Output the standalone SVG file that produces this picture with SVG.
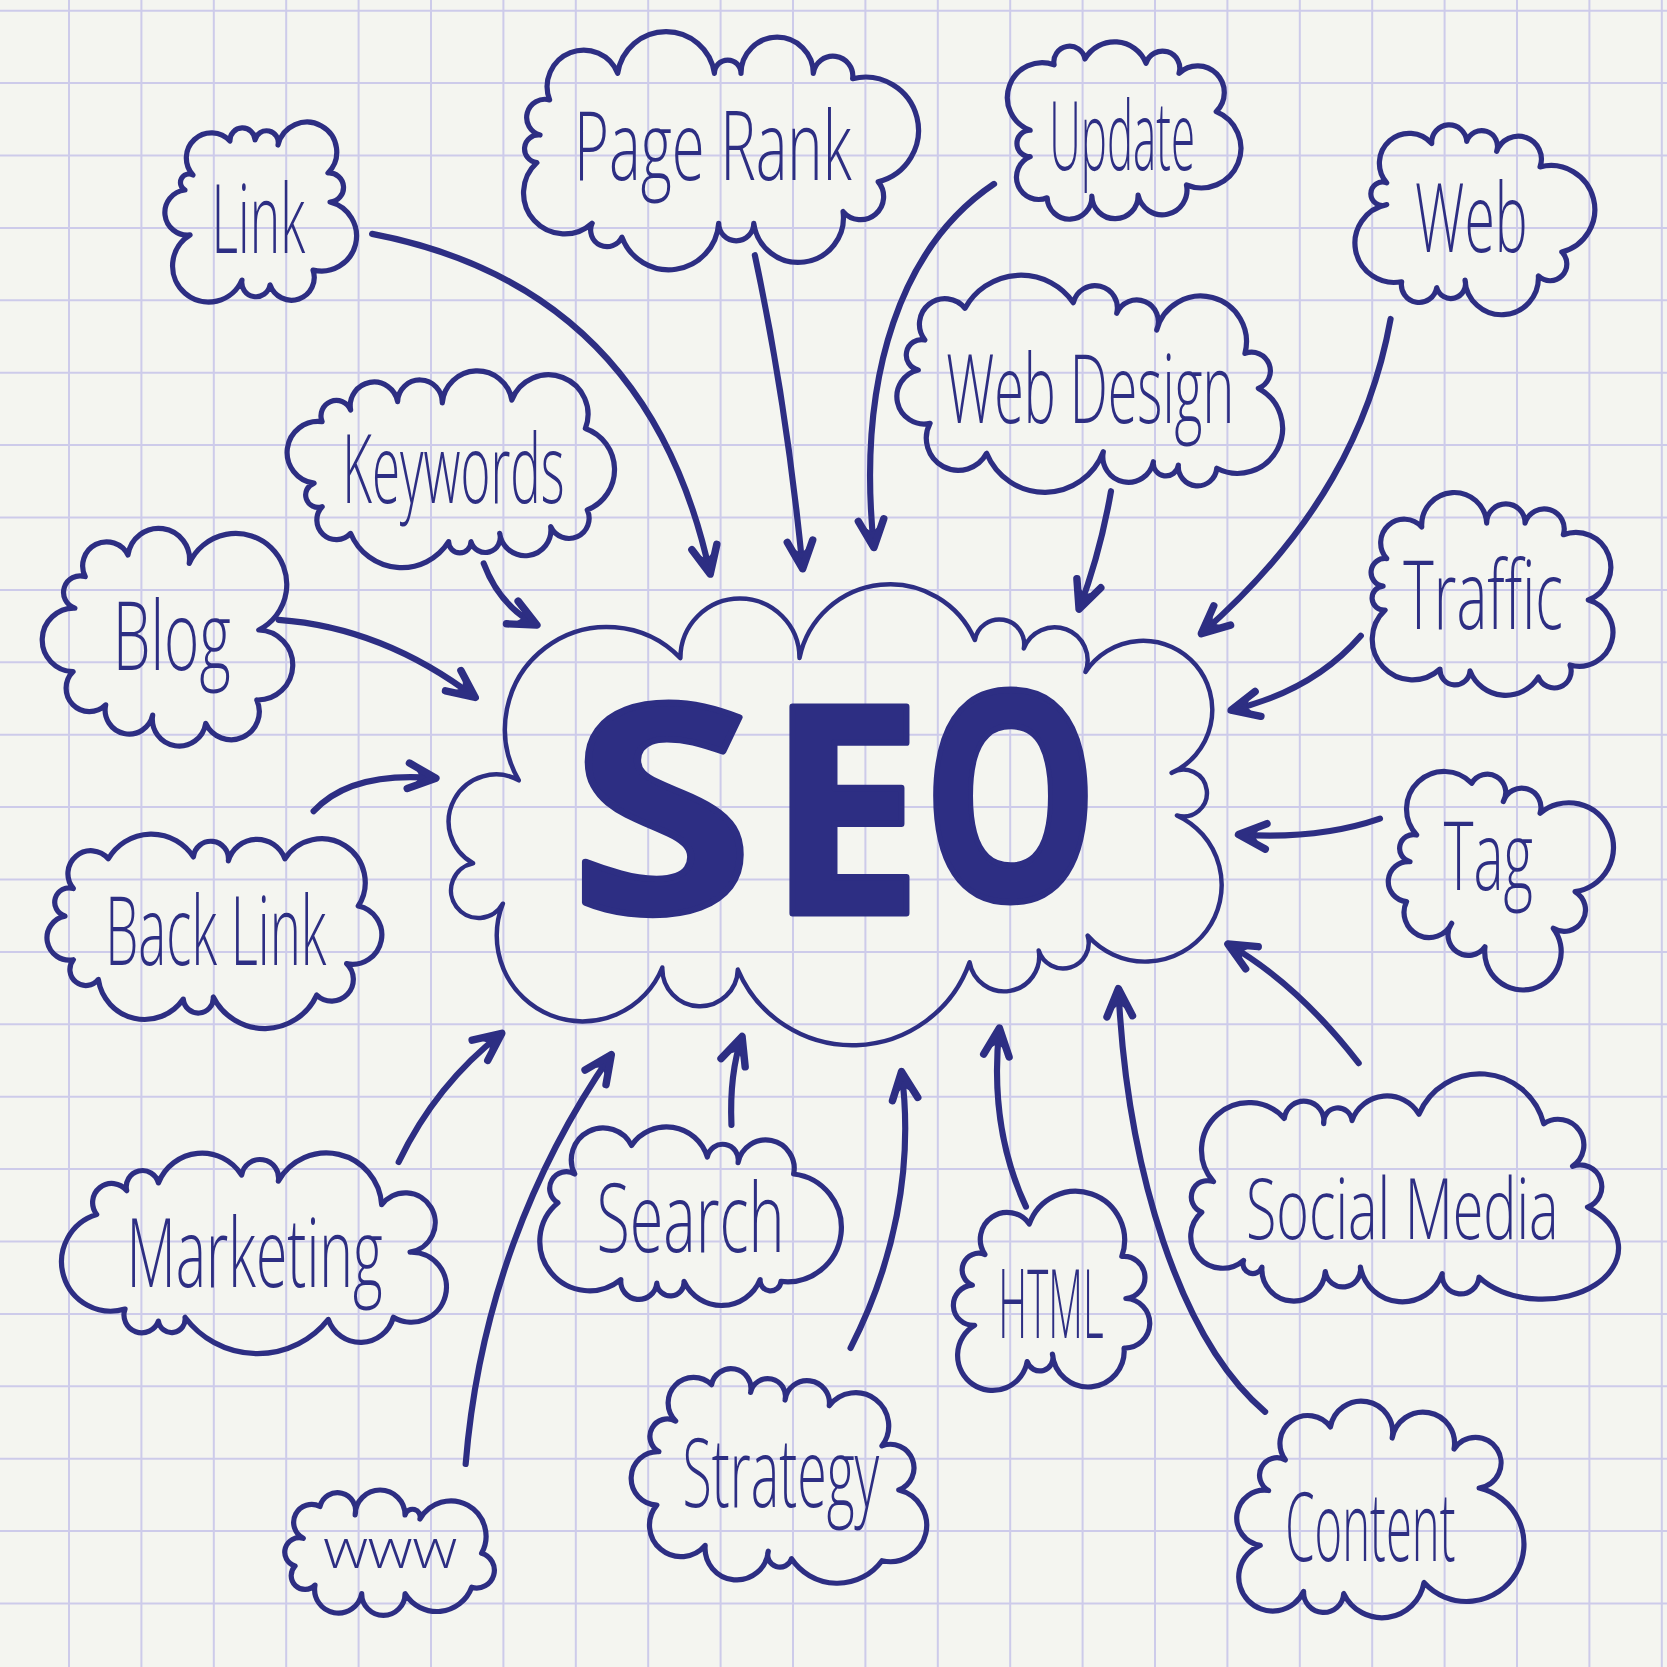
<svg xmlns="http://www.w3.org/2000/svg" width="1667" height="1667" viewBox="0 0 1667 1667">
<defs>
<style>
.grid{fill:none;stroke:#cdcbea;stroke-width:2}
.cloud{fill:none;stroke:#2d2e83;stroke-width:4.9;stroke-linejoin:round;stroke-linecap:round}
.big{stroke-width:4.2}
.arrow{fill:none;stroke:#2d2e83;stroke-width:5.8;stroke-linecap:round;marker-end:url(#ah)}
.lbl{font-family:"Open Sans","DejaVu Sans",sans-serif;font-weight:300;font-size:90px;fill:#2d2e83}
.seo{font-family:"Open Sans","DejaVu Sans",sans-serif;font-weight:700;font-size:272px;fill:#2d2e83;stroke:#2d2e83;stroke-width:6;stroke-linejoin:round;text-anchor:middle}
</style>
<marker id="ah" markerUnits="userSpaceOnUse" viewBox="-32 -16 36 32" refX="0" refY="0" markerWidth="36" markerHeight="32" orient="auto" overflow="visible">
<path d="M0,0 L-21,-9 L-15,0 L-21,9 Z" fill="#2d2e83"/>
<path d="M-26,-12 L0,0 L-26,12" fill="none" stroke="#2d2e83" stroke-width="7" stroke-linecap="round" stroke-linejoin="round"/>
</marker>
</defs>
<rect width="1667" height="1667" fill="#f4f5f0"/>
<path class="grid" d="M69,0V1667M141.4,0V1667M213.8,0V1667M286.2,0V1667M358.6,0V1667M431,0V1667M503.4,0V1667M575.8,0V1667M648.2,0V1667M720.6,0V1667M793,0V1667M865.4,0V1667M937.8,0V1667M1010.2,0V1667M1082.6,0V1667M1155,0V1667M1227.4,0V1667M1299.8,0V1667M1372.2,0V1667M1444.6,0V1667M1517,0V1667M1589.4,0V1667M1661.8,0V1667M0,10.7H1667M0,83.1H1667M0,155.5H1667M0,227.9H1667M0,300.3H1667M0,372.7H1667M0,445.1H1667M0,517.5H1667M0,589.9H1667M0,662.3H1667M0,734.7H1667M0,807.1H1667M0,879.5H1667M0,951.9H1667M0,1024.3H1667M0,1096.7H1667M0,1169.1H1667M0,1241.5H1667M0,1313.9H1667M0,1386.3H1667M0,1458.7H1667M0,1531.1H1667M0,1603.5H1667"/>
<g transform="scale(1.063138)">
<g id="connectors">
<path class="arrow" d="M350,220 Q610,270 668,540"/>
<path class="arrow" d="M710,240 Q740,380 755,535"/>
<path class="arrow" d="M935,173 C850,230 805,350 822,515"/>
<path class="arrow" d="M1308,300 C1290,400 1240,500 1130,596"/>
<path class="arrow" d="M1045,462 Q1035,520 1015,573"/>
<path class="arrow" d="M455,530 Q470,570 505,588"/>
<path class="arrow" d="M262,583 Q360,590 447,656"/>
<path class="arrow" d="M295,763 Q330,725 410,732"/>
<path class="arrow" d="M1298,770 Q1240,790 1165,785"/>
<path class="arrow" d="M1280,598 Q1235,650 1158,668"/>
<path class="arrow" d="M1278,1000 Q1220,925 1155,888"/>
<path class="arrow" d="M1190,1328 C1110,1260 1060,1100 1052,930"/>
<path class="arrow" d="M965,1135 Q930,1060 940,967"/>
<path class="arrow" d="M800,1268 C840,1190 860,1100 848,1008"/>
<path class="arrow" d="M688,1058 Q686,1010 698,975"/>
<path class="arrow" d="M375,1093 Q410,1020 472,972"/>
<path class="arrow" d="M438,1377 C450,1230 500,1100 575,992"/>
</g>
<g id="seo">
<path class="cloud big" d="M488,734 A96,96 0 0 1 640,619 A1,1 0 0 1 752,619 A87,87 0 0 1 917,602 A1,1 0 0 1 963,610 A1,1 0 0 1 1021,632 A65,65 0 1 1 1102,727 A22,22 0 1 1 1107,767 A72,72 0 1 1 1023,880 A1,1 0 0 1 977,894 A1,1 0 0 1 912,905 A117,117 0 0 1 694,912 A1,1 0 0 1 623,910 A1,1 0 0 1 473,850 A26,26 0 1 1 445,812 A1,1 0 0 1 488,734 Z"/>
<text class="seo" x="622.5" y="858" textLength="172" lengthAdjust="spacingAndGlyphs">S</text>
<text class="seo" x="795" y="859" textLength="146" lengthAdjust="spacingAndGlyphs">E</text>
<text class="seo" x="950.5" y="846" textLength="165" lengthAdjust="spacingAndGlyphs">O</text>
</g>
<g id="link">
<path class="cloud" d="M181.5,164.6 A1,1 0 0 1 216.3,132.6 A1,1 0 0 1 239.9,131.7 A1,1 0 0 1 261.5,136.4 A28,28 0 1 1 308.5,162.7 A1,1 0 0 1 310.4,190 A1,1 0 0 1 294.4,254 A1,1 0 0 1 254,268 A1,1 0 0 1 227.6,263.4 A34,34 0 1 1 178.7,221 A1,1 0 0 1 174,178.7 A1,1 0 0 1 181.5,164.6 Z"/>
<text class="lbl" x="199" y="238" textLength="88" lengthAdjust="spacingAndGlyphs">Link</text>
</g>
<g id="page-rank">
<path class="cloud" d="M517,94 A1,1 0 0 1 581,69 A46,46 0 0 1 672,69 A1,1 0 0 1 697,69 A1,1 0 0 1 765,69 A1,1 0 0 1 802,74 A1,1 0 0 1 826,171 A1,1 0 0 1 793,199 A1,1 0 0 1 709,210 A1,1 0 0 1 676,210 A47,47 0 0 1 585,223 A1,1 0 0 1 557,210 A1,1 0 0 1 505,153 A1,1 0 0 1 508,127 A1,1 0 0 1 517,94 Z"/>
<text class="lbl" x="540" y="169" textLength="261" lengthAdjust="spacingAndGlyphs">Page Rank</text>
</g>
<g id="update">
<path class="cloud" d="M969,122.5 A1,1 0 0 1 991.5,61 A1,1 0 0 1 1020.5,55.5 A32,32 0 0 1 1078,59.5 A1,1 0 0 1 1109,69 A1,1 0 0 1 1144,105 A1,1 0 0 1 1116,174 A1,1 0 0 1 1070.5,183.5 A1,1 0 0 1 1027,184.4 A1,1 0 0 1 985,186 A1,1 0 0 1 969,147.4 A1,1 0 0 1 969,122.5 Z"/>
<text class="lbl" x="987" y="160" textLength="137" lengthAdjust="spacingAndGlyphs">Update</text>
</g>
<g id="web">
<path class="cloud" d="M1304.4,172 A1,1 0 0 1 1346.7,135 A1,1 0 0 1 1379.6,133 A1,1 0 0 1 1407.8,142.4 A1,1 0 0 1 1448.6,157 A1,1 0 0 1 1469,237 A1,1 0 0 1 1447,259.6 A1,1 0 0 1 1378,263.4 A1,1 0 0 1 1351.4,270.6 A1,1 0 0 1 1318.4,265 A1,1 0 0 1 1304.4,192.5 A11,11 0 1 1 1304.4,172 Z"/>
<text class="lbl" x="1331" y="237" textLength="106" lengthAdjust="spacingAndGlyphs">Web</text>
</g>
<g id="keywords">
<path class="cloud" d="M303,396.7 A1,1 0 0 1 329.8,385.7 A1,1 0 0 1 374,377.8 A1,1 0 0 1 416,379 A33,33 0 0 1 481.4,376.3 A1,1 0 0 1 550.6,403 A41,41 0 0 1 552.4,479.7 A1,1 0 0 1 518,495.4 A1,1 0 0 1 470,501.7 A1,1 0 0 1 443,509.5 A1,1 0 0 1 422,509.5 A52,52 0 0 1 329.8,501.7 A1,1 0 0 1 303,476.6 A1,1 0 0 1 295.4,454.5 A1,1 0 0 1 303,396.7 Z"/>
<text class="lbl" x="322" y="473" textLength="209" lengthAdjust="spacingAndGlyphs">Keywords</text>
</g>
<g id="web-design">
<path class="cloud" d="M870,319.8 A1,1 0 0 1 907.7,290 A60,60 0 0 1 1009.6,284.7 A1,1 0 0 1 1050.4,294.7 A1,1 0 0 1 1088,310.4 A1,1 0 0 1 1171,332.4 A1,1 0 0 1 1183.6,365.3 A1,1 0 0 1 1144.5,440.5 A1,1 0 0 1 1108.4,437.4 A1,1 0 0 1 1084.9,434.3 A1,1 0 0 1 1037.8,424.9 A59,59 0 0 1 928,426.4 A1,1 0 0 1 874.8,398.2 A1,1 0 0 1 863.8,348 A1,1 0 0 1 870,319.8 Z"/>
<text class="lbl" x="890" y="398" textLength="271" lengthAdjust="spacingAndGlyphs">Web Design</text>
</g>
<g id="blog">
<path class="cloud" d="M80.2,542.4 A1,1 0 0 1 120.4,522 A1,1 0 0 1 178,530 A48,48 0 1 1 243.4,592.6 A1,1 0 0 1 241.5,658.4 A1,1 0 0 1 193.5,680.4 A1,1 0 0 1 143.6,672.6 A1,1 0 0 1 99.4,663 A1,1 0 0 1 68.7,631.8 A1,1 0 0 1 70.5,572 A1,1 0 0 1 80.2,542.4 Z"/>
<text class="lbl" x="106" y="630" textLength="111" lengthAdjust="spacingAndGlyphs">Blog</text>
</g>
<g id="traffic">
<path class="cloud" d="M1304.4,525.4 A1,1 0 0 1 1337.3,495.7 A1,1 0 0 1 1398.4,492 A1,1 0 0 1 1434.5,492 A1,1 0 0 1 1470.5,503 A1,1 0 0 1 1494,564.4 A1,1 0 0 1 1476.8,625.5 A1,1 0 0 1 1447,636.8 A36,36 0 0 1 1382.7,631 A1,1 0 0 1 1354.5,629.3 A1,1 0 0 1 1302.8,573.8 A1,1 0 0 1 1301,551.3 A1,1 0 0 1 1304.4,525.4 Z"/>
<text class="lbl" x="1320" y="592" textLength="150" lengthAdjust="spacingAndGlyphs">Traffic</text>
</g>
<g id="tag">
<path class="cloud" d="M1332.6,785.4 A1,1 0 0 1 1384.3,736.8 A1,1 0 0 1 1414,754 A1,1 0 0 1 1448.6,765 A42,42 0 1 1 1481.5,838.7 A1,1 0 0 1 1461,873.2 A36,36 0 1 1 1396.8,890.5 A1,1 0 0 1 1365.5,868.5 A1,1 0 0 1 1323,848 A1,1 0 0 1 1326.3,810.5 A1,1 0 0 1 1332.6,785.4 Z"/>
<text class="lbl" x="1358" y="837" textLength="84" lengthAdjust="spacingAndGlyphs">Tag</text>
</g>
<g id="back-link">
<path class="cloud" d="M69,835.7 A1,1 0 0 1 101.9,807.8 A47,47 0 0 1 181.9,806 A1,1 0 0 1 214.8,809.7 A28,28 0 0 1 268,807.8 A1,1 0 0 1 337,852.2 A1,1 0 0 1 326,906.4 A1,1 0 0 1 297.9,936 A54,54 0 0 1 200.6,937.8 A1,1 0 0 1 172.4,939.7 A44,44 0 0 1 92.5,921.3 A1,1 0 0 1 69,902.7 A1,1 0 0 1 61.1,861.7 A1,1 0 0 1 69,835.7 Z"/>
<text class="lbl" x="99" y="908" textLength="208" lengthAdjust="spacingAndGlyphs">Back Link</text>
</g>
<g id="marketing">
<path class="cloud" d="M91,1142.4 A1,1 0 0 1 119.2,1120 A1,1 0 0 1 149,1112.7 A44,44 0 0 1 227.3,1105.3 A1,1 0 0 1 261.8,1111 A52,52 0 0 1 359,1133.2 A28,28 0 1 1 385.7,1177.7 A33,33 0 1 1 370,1239 A32,32 0 0 1 308.8,1241 A85,85 0 0 1 174,1239 A1,1 0 0 1 149,1242.6 A1,1 0 0 1 117.6,1231.3 A1,1 0 0 1 91,1142.4 Z"/>
<text class="lbl" x="119" y="1211" textLength="241" lengthAdjust="spacingAndGlyphs">Marketing</text>
</g>
<g id="search">
<path class="cloud" d="M540.6,1104.3 A1,1 0 0 1 594,1077.4 A40,40 0 0 1 665.3,1088.4 A1,1 0 0 1 694.2,1093.6 A1,1 0 0 1 746.5,1104.3 A1,1 0 0 1 734.6,1205.3 A1,1 0 0 1 715,1203.5 A39,39 0 0 1 643.4,1205.3 A1,1 0 0 1 617.8,1207 A1,1 0 0 1 584,1203.5 A1,1 0 0 1 524.8,1131.4 A1,1 0 0 1 540.6,1104.3 Z"/>
<text class="lbl" x="561" y="1178" textLength="177" lengthAdjust="spacingAndGlyphs">Search</text>
</g>
<g id="html">
<path class="cloud" d="M926.5,1180 A1,1 0 0 1 968.2,1151.3 A1,1 0 0 1 1055.2,1181.8 A1,1 0 0 1 1059,1221.4 A1,1 0 0 1 1057.3,1268 A1,1 0 0 1 989.9,1273.6 A1,1 0 0 1 966.2,1280.7 A33,33 0 1 1 916.7,1246.6 A1,1 0 0 1 914.7,1208.8 A1,1 0 0 1 926.5,1180 Z"/>
<text class="lbl" x="939" y="1259" textLength="99" lengthAdjust="spacingAndGlyphs">HTML</text>
</g>
<g id="social-media">
<path class="cloud" d="M1141.5,1111.5 A1,1 0 0 1 1208,1052 A1,1 0 0 1 1245.1,1057 A1,1 0 0 1 1271.7,1054 A35,35 0 0 1 1334.7,1048 A62,62 0 0 1 1452,1057 A1,1 0 0 1 1479.2,1097 A1,1 0 0 1 1493.2,1135.4 A72,48 0 1 1 1391.2,1201.3 A1,1 0 0 1 1356.6,1198 A40,40 0 0 1 1279.6,1191.8 A1,1 0 0 1 1246.6,1196 A1,1 0 0 1 1187,1191.8 A1,1 0 0 1 1169.7,1185.6 A1,1 0 0 1 1130.4,1140.2 A1,1 0 0 1 1141.5,1111.5 Z"/>
<text class="lbl" x="1172" y="1165" textLength="294" lengthAdjust="spacingAndGlyphs" style="font-size:80px">Social Media</text>
</g>
<g id="content">
<path class="cloud" d="M1209,1373.2 A1,1 0 0 1 1251.4,1342.2 A1,1 0 0 1 1309.5,1352.6 A1,1 0 0 1 1367.7,1363 A24,24 0 1 1 1391.3,1399.7 A54,54 0 1 1 1339.4,1488.6 A40,40 0 0 1 1263.9,1498.9 A1,1 0 0 1 1226.2,1496.8 A32,32 0 1 1 1185.4,1453.6 A1,1 0 0 1 1193.3,1402 A1,1 0 0 1 1209,1373.2 Z"/>
<text class="lbl" x="1209" y="1468" textLength="160" lengthAdjust="spacingAndGlyphs">Content</text>
</g>
<g id="www">
<path class="cloud" d="M285.3,1447 A1,1 0 0 1 301,1417 A1,1 0 0 1 334,1425 A1,1 0 0 1 381,1425 A1,1 0 0 1 395,1428.8 A1,1 0 0 1 453,1461 A1,1 0 0 1 443.7,1493 A35,35 0 0 1 381,1499 A1,1 0 0 1 340.2,1499 A1,1 0 0 1 296.3,1491 A1,1 0 0 1 277.5,1473 A1,1 0 0 1 285.3,1447 Z"/>
<text class="lbl" x="304" y="1475" textLength="126" lengthAdjust="spacingAndGlyphs" style="font-size:52px">www</text>
</g>
<g id="strategy">
<path class="cloud" d="M635.6,1336.7 A1,1 0 0 1 669.3,1302.4 A1,1 0 0 1 706,1309.7 A1,1 0 0 1 738.4,1316.9 A1,1 0 0 1 780,1322.3 A1,1 0 0 1 829.6,1360 A1,1 0 0 1 845.4,1401.5 A1,1 0 0 1 829.6,1468 A52,52 0 0 1 744.5,1466.2 A1,1 0 0 1 722.7,1459 A1,1 0 0 1 663.3,1453.6 A1,1 0 0 1 617.8,1415.6 A1,1 0 0 1 619.8,1365.4 A1,1 0 0 1 635.6,1336.7 Z"/>
<text class="lbl" x="642" y="1417.6" textLength="185" lengthAdjust="spacingAndGlyphs">Strategy</text>
</g>
</g>
</svg>
